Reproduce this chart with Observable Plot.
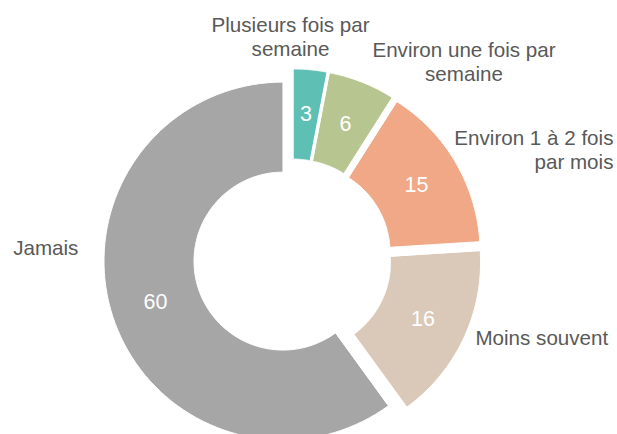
<!DOCTYPE html>
<html><head><meta charset="utf-8">
<script src="https://cdn.jsdelivr.net/npm/d3@7"></script>
<script src="https://cdn.jsdelivr.net/npm/@observablehq/plot@0.6"></script>
<style>
html,body{margin:0;padding:0;background:#fff}
#chart{width:617px;height:434px;overflow:hidden}
</style>
</head><body><div id="chart"></div>
<script>
// ---- data ----
const categories = ["Plusieurs fois par semaine", "Environ une fois par semaine", "Environ 1 à 2 fois par mois", "Moins souvent", "Jamais"];
const labelTexts = ["Plusieurs fois par\nsemaine", "Environ une fois par\nsemaine", "Environ 1 à 2 fois\npar mois", "Moins souvent", "Jamais"];
const values = [3, 6, 15, 16, 60];
const colors = ["#5EBFB4", "#B7C690", "#F0A886", "#DAC9B8", "#A6A6A6"];

// ---- layout (unit = outer radius) ----
const W = 617, H = 434, CX = 292, CY = 257.5, RPX = 179;
const INNER = 0.497, EXPLODE = 0.056, LABEL_R = 0.749, STEPS = 90;
// outside label anchors in unit coordinates relative to the pie centre
const labelAnchors = [
  {u: -0.011, v: 1.240, anchor: "middle"},
  {u: 0.958, v: 1.100, anchor: "middle"},
  {u: 1.793, v: 0.608, anchor: "end"},
  {u: 1.022, v: -0.442, anchor: "start"},
  {u: -1.196, v: 0.061, anchor: "end"}
];

const total = d3.sum(values);
let acc = 0;
const slices = values.map((v, i) => {
  const a0 = acc / total * 2 * Math.PI;
  acc += v;
  const a1 = acc / total * 2 * Math.PI;
  const m = (a0 + a1) / 2;
  const ox = EXPLODE * Math.sin(m), oy = EXPLODE * Math.cos(m);
  return {cat: categories[i], value: v, a0, a1, m, ox, oy,
          lx: ox + LABEL_R * Math.sin(m), ly: oy + LABEL_R * Math.cos(m)};
});

const verts = [];
for (const s of slices) {
  for (let k = 0; k <= STEPS; k++) {
    const a = s.a0 + (s.a1 - s.a0) * k / STEPS;
    verts.push({cat: s.cat, x: s.ox + Math.sin(a), y: s.oy + Math.cos(a)});
  }
  for (let k = STEPS; k >= 0; k--) {
    const a = s.a0 + (s.a1 - s.a0) * k / STEPS;
    verts.push({cat: s.cat, x: s.ox + INNER * Math.sin(a), y: s.oy + INNER * Math.cos(a)});
  }
}

const outer = labelTexts.map((t, i) => ({text: t, ...labelAnchors[i]}));
const textStyle = {fontSize: 20.6, lineHeight: 1.17, fill: "#595959", lineAnchor: "middle"};

const chart = Plot.plot({
  width: W, height: H,
  margin: 0, marginTop: 0, marginRight: 0, marginBottom: 0, marginLeft: 0,
  x: {domain: [-CX / RPX, (W - CX) / RPX], range: [0, W], axis: null},
  y: {domain: [-(H - CY) / RPX, CY / RPX], range: [H, 0], axis: null},
  color: {domain: categories, range: colors},
  style: {fontFamily: "'Liberation Sans', Arial, sans-serif", background: "#fff"},
  marks: [
    Plot.line(verts, {x: "x", y: "y", z: "cat", fill: "cat", stroke: "white", strokeWidth: 1, curve: "linear-closed"}),
    Plot.text(slices, {x: "lx", y: "ly", text: d => String(d.value), fill: "white", fontSize: 21.5}),
    ...["start", "middle", "end"].map(a =>
      Plot.text(outer.filter(d => d.anchor === a), {x: "u", y: "v", text: "text", textAnchor: a, ...textStyle}))
  ]
});
document.getElementById("chart").appendChild(chart);
</script>
</body></html>
